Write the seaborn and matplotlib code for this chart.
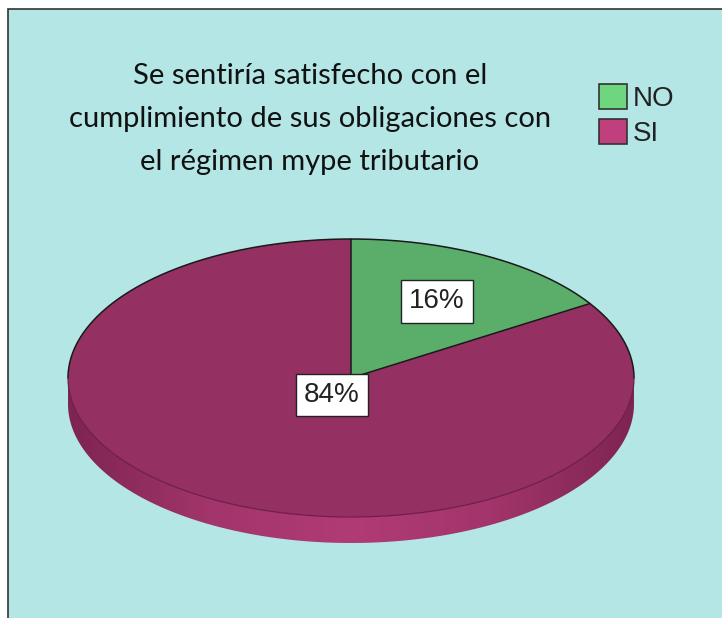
import numpy as np
import matplotlib
matplotlib.use("Agg")
import matplotlib.pyplot as plt
from matplotlib.colors import LinearSegmentedColormap
from matplotlib.patches import Patch, PathPatch, Rectangle
from matplotlib.path import Path
import seaborn as sns

# Data
categories = ["NO", "SI"]
percentages = [16, 84]
pct_labels = ["16%", "84%"]
title_lines = [
    "Se sentiría satisfecho con el",
    "cumplimiento de sus obligaciones con",
    "el régimen mype tributario",
]

# Styles
top_colors = ["#5aae69", "#943062"]
legend_colors = ["#6fd680", "#c0407e"]
side_colors = ["#7e2452", "#a2356b", "#b13b75", "#a2356b", "#7e2452"]
bg = "#b4e6e6"

sns.set_theme(style="white")
plt.rcParams["font.family"] = ["Liberation Sans", "DejaVu Sans"]

W, H = 722, 618
fig = plt.figure(figsize=(W / 100, H / 100), dpi=100)
fig.patch.set_facecolor("white")

# panel with border (cut by the right/bottom image edges)
fig.patches.append(Rectangle((7.5 / W, -0.05), 1.1, 1.05 - 8.5 / H,
                             transform=fig.transFigure, facecolor=bg,
                             edgecolor="#333333", lw=1.2, zorder=-10))

# pie geometry in pixels
cx, cy, rx, ry, depth = 351, 378, 283, 139, 26
d = depth / ry

ax = fig.add_axes([0, 0, 1, 1])
ax.set_axis_off()
ax.patch.set_alpha(0)

wedges, _ = ax.pie(percentages, colors=top_colors, startangle=90,
                   counterclock=False, radius=1,
                   wedgeprops=dict(edgecolor="none", zorder=3))

# outlines: dark on the upper rim and slice borders, faint on the front rim
up = np.linspace(0, np.pi, 200)
ax.plot(np.cos(up), np.sin(up), color="#1a1a1a", lw=1.1, zorder=4)
lo = np.linspace(np.pi, 2 * np.pi, 200)
ax.plot(np.cos(lo), np.sin(lo), color="#6e1f47", lw=0.9, zorder=4)
for w in wedges:
    a = np.deg2rad(w.theta1)
    ax.plot([0, np.cos(a)], [0, np.sin(a)], color="#1a1a1a", lw=1.1, zorder=4)

# side of the disc
verts = np.concatenate([np.c_[np.cos(lo), np.sin(lo)],
                        np.c_[np.cos(lo[::-1]), np.sin(lo[::-1]) - d],
                        [[-1, 0]]])
codes = [Path.MOVETO] + [Path.LINETO] * (len(verts) - 2) + [Path.CLOSEPOLY]
side = PathPatch(Path(verts, codes), facecolor="none", edgecolor="none")
ax.add_patch(side)
cmap = LinearSegmentedColormap.from_list("side", side_colors)
img = ax.imshow(np.linspace(0, 1, 256)[None, :], cmap=cmap,
                extent=(-1, 1, -1 - d, 0), aspect="auto", zorder=1)
img.set_clip_path(side)

# percentage labels
label_radii = [0.63, 0.14]
for w, lab, r in zip(wedges, pct_labels, label_radii):
    mid = np.deg2rad((w.theta1 + w.theta2) / 2)
    ax.text(r * np.cos(mid), r * np.sin(mid), lab, ha="center", va="center",
            fontsize=20, color="#222222", zorder=5,
            bbox=dict(boxstyle="square,pad=0.3", fc="white", ec="#222222", lw=1))

ax.set_aspect("auto")
ax.set_xlim(-cx / rx, (W - cx) / rx)
ax.set_ylim(-(H - cy) / ry, cy / ry)

# title
for i, line in enumerate(title_lines):
    fig.text(310 / W, 1 - (84 + 43 * i) / H, line, ha="center", va="baseline",
             fontsize=21, family=["Lato", "DejaVu Sans"], color="#111111")

# legend
handles = [Patch(facecolor=c, edgecolor="#333333", lw=1.2) for c in legend_colors]
fig.legend(handles=handles, labels=categories, loc="upper left",
           bbox_to_anchor=(599 / W, 1 - 84 / H), frameon=False, fontsize=20,
           handlelength=1.0, handleheight=1.0, handletextpad=0.2,
           labelspacing=0.25, borderpad=0, borderaxespad=0,
           labelcolor="#222222")

fig.savefig("out.png", dpi=100)
